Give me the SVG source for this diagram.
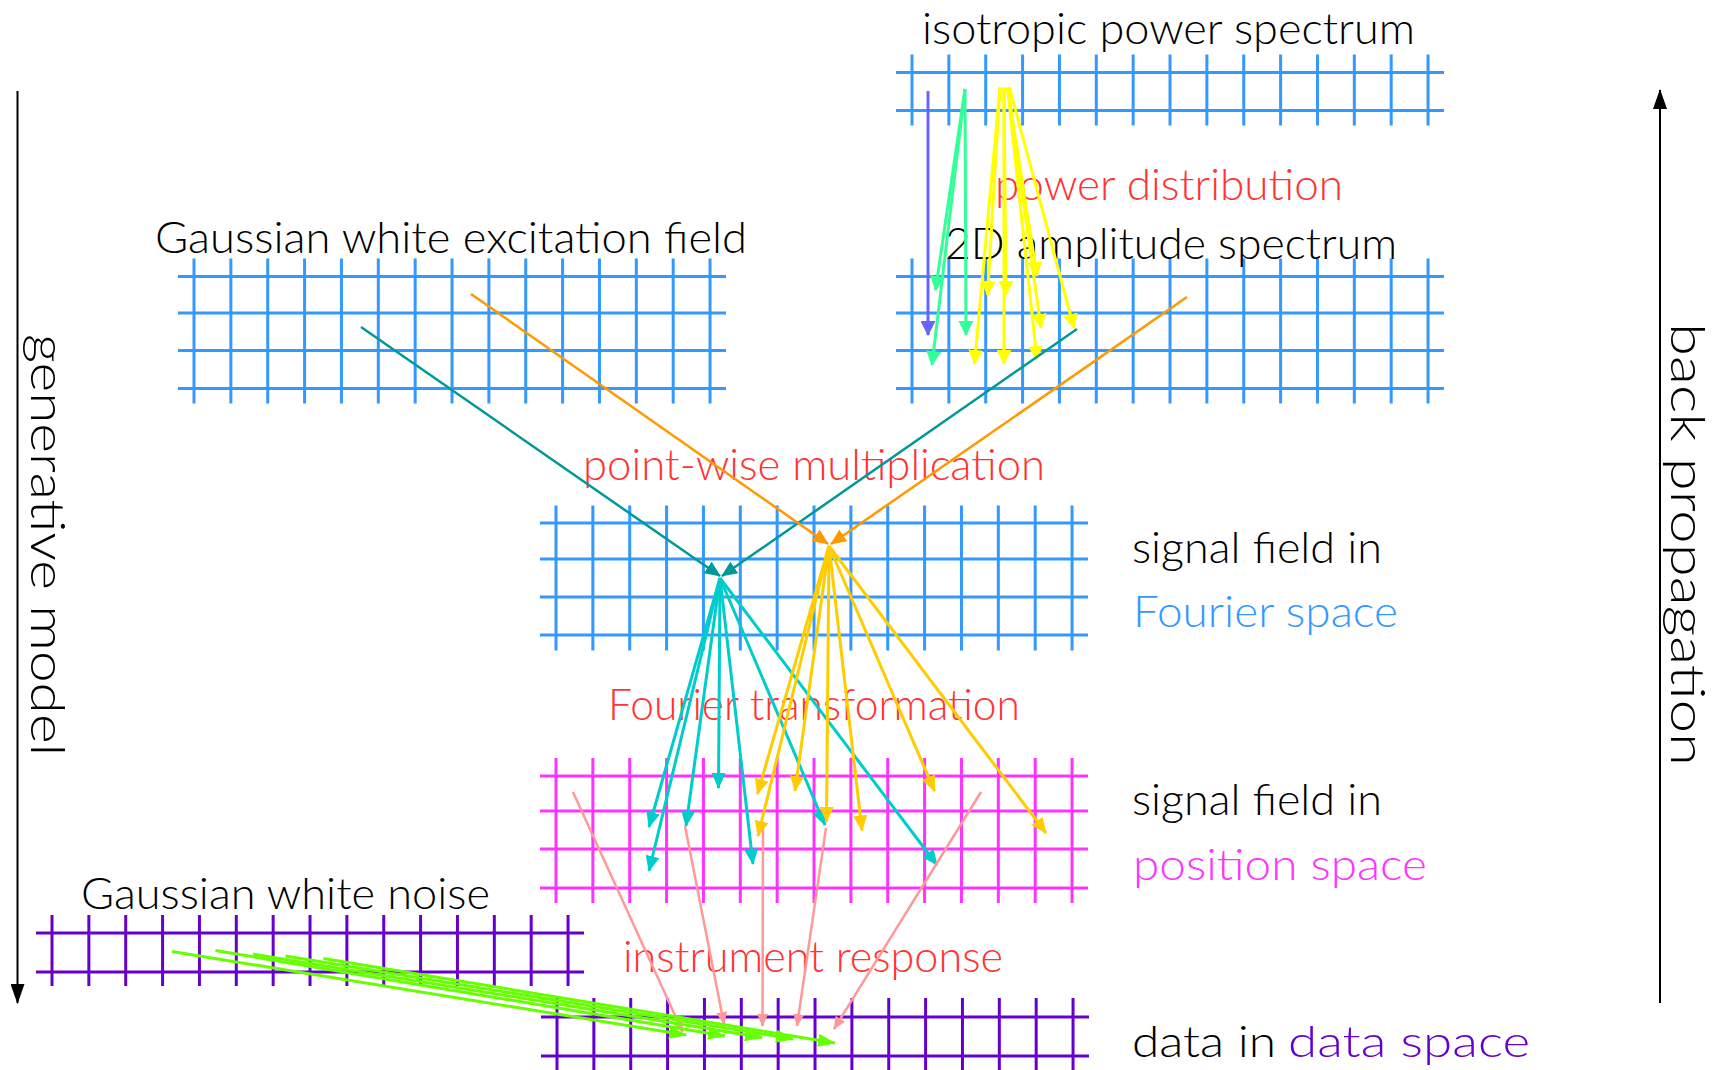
<svg xmlns="http://www.w3.org/2000/svg" xmlns:xlink="http://www.w3.org/1999/xlink" width="1718" height="1070" viewBox="0 0 1718 1070">
<style>
.bg{fill:#ffffff}
.gb{stroke:#3399ff;stroke-width:3;fill:none}
.gm{stroke:#ff33ff;stroke-width:3;fill:none}
.gp{stroke:#6600cc;stroke-width:3;fill:none}
.t{font-family:Lato,"Open Sans","Liberation Sans",sans-serif;font-weight:300;font-size:44px;fill:#000000}
.tr{font-family:Lato,"Open Sans","Liberation Sans",sans-serif;font-weight:300;font-size:47px;fill:#000000}
.red{fill:#ff3333}
.blue{fill:#3399ff}
.mag{fill:#ff33ff}
.pur{fill:#6600cc}
.k{stroke:#000000;stroke-width:2}
.purple{stroke:#6666ff;stroke-width:3}
.spring{stroke:#33ff99;stroke-width:3}
.yel{stroke:#ffff00;stroke-width:3}
.teal{stroke:#009999;stroke-width:2.5}
.ora{stroke:#ff9900;stroke-width:2.5}
.cyan{stroke:#00cccc;stroke-width:3}
.gold{stroke:#ffcc00;stroke-width:3}
.sal{stroke:#ff9999;stroke-width:2.5}
.lime{stroke:#66ff00;stroke-width:3}
</style>
<defs>
<path id="v4" d="M16,0V145M52.86,0V145M89.72,0V145M126.58,0V145M163.44,0V145M200.3,0V145M237.16,0V145M274.02,0V145M310.88,0V145M347.74,0V145M384.6,0V145M421.46,0V145M458.32,0V145M495.18,0V145M532.04,0V145"/>
<path id="v2" d="M16,0V71M52.86,0V71M89.72,0V71M126.58,0V71M163.44,0V71M200.3,0V71M237.16,0V71M274.02,0V71M310.88,0V71M347.74,0V71M384.6,0V71M421.46,0V71M458.32,0V71M495.18,0V71M532.04,0V71"/>
<marker id="mk" viewBox="0 0 20 14" refX="19" refY="7" markerWidth="20" markerHeight="14" markerUnits="userSpaceOnUse" orient="auto"><path d="M0,0L20,7L0,14z" fill="#000000"/></marker>
<marker id="mpurple" viewBox="0 0 15 15" refX="14" refY="7.5" markerWidth="15" markerHeight="15" markerUnits="userSpaceOnUse" orient="auto"><path d="M0,0L15,7.5L0,15z" fill="#6666ff"/></marker>
<marker id="mspring" viewBox="0 0 15 15" refX="14" refY="7.5" markerWidth="15" markerHeight="15" markerUnits="userSpaceOnUse" orient="auto"><path d="M0,0L15,7.5L0,15z" fill="#33ff99"/></marker>
<marker id="myel" viewBox="0 0 15 15" refX="14" refY="7.5" markerWidth="15" markerHeight="15" markerUnits="userSpaceOnUse" orient="auto"><path d="M0,0L15,7.5L0,15z" fill="#ffff00"/></marker>
<marker id="mteal" viewBox="0 0 16 14" refX="15" refY="7" markerWidth="16" markerHeight="14" markerUnits="userSpaceOnUse" orient="auto"><path d="M0,0L16,7L0,14z" fill="#009999"/></marker>
<marker id="mora" viewBox="0 0 16 14" refX="15" refY="7" markerWidth="16" markerHeight="14" markerUnits="userSpaceOnUse" orient="auto"><path d="M0,0L16,7L0,14z" fill="#ff9900"/></marker>
<marker id="mcyan" viewBox="0 0 16 14" refX="15" refY="7" markerWidth="16" markerHeight="14" markerUnits="userSpaceOnUse" orient="auto"><path d="M0,0L16,7L0,14z" fill="#00cccc"/></marker>
<marker id="mgold" viewBox="0 0 16 14" refX="15" refY="7" markerWidth="16" markerHeight="14" markerUnits="userSpaceOnUse" orient="auto"><path d="M0,0L16,7L0,14z" fill="#ffcc00"/></marker>
<marker id="msal" viewBox="0 0 13 11" refX="12" refY="5.5" markerWidth="13" markerHeight="11" markerUnits="userSpaceOnUse" orient="auto"><path d="M0,0L13,5.5L0,11z" fill="#ff9999"/></marker>
<marker id="mlime" viewBox="0 0 18 13" refX="17" refY="6.5" markerWidth="18" markerHeight="13" markerUnits="userSpaceOnUse" orient="auto"><path d="M0,0L18,6.5L0,13z" fill="#66ff00"/></marker>
</defs>
<rect class="bg" x="0" y="0" width="1718" height="1070"/>

<g id="isotropic-power-spectrum" class="gb">
<path d="M896,72.5H1444M896,110.5H1444"/>
<use xlink:href="#v2" x="896" y="54.5"/>
<text class="t" stroke="none" x="922" y="43.5" textLength="493" lengthAdjust="spacingAndGlyphs">isotropic power spectrum</text>
</g>

<g id="amplitude-spectrum" class="gb">
<path d="M896,276.5H1444M896,313H1444M896,350.5H1444M896,388.5H1444"/>
<use xlink:href="#v4" x="896" y="258.5"/>
<text class="t" stroke="none" x="945" y="258.5" textLength="452" lengthAdjust="spacingAndGlyphs">2D amplitude spectrum</text>
</g>

<g id="excitation-field" class="gb">
<path d="M178,276.5H726M178,313H726M178,350.5H726M178,388.5H726"/>
<use xlink:href="#v4" x="178" y="258.5"/>
<text class="t" stroke="none" x="155" y="252.5" textLength="592" lengthAdjust="spacingAndGlyphs">Gaussian white excitation field</text>
</g>

<g id="signal-fourier" class="gb">
<path d="M540,523H1088M540,559H1088M540,597H1088M540,635H1088"/>
<use xlink:href="#v4" x="540" y="505.5"/>
<text class="t" stroke="none" x="1132" y="562.5" textLength="250" lengthAdjust="spacingAndGlyphs">signal field in</text>
<text class="t blue" stroke="none" x="1133" y="626.5" textLength="265" lengthAdjust="spacingAndGlyphs">Fourier space</text>
</g>

<g id="signal-position" class="gm">
<path d="M540,776H1088M540,811H1088M540,849H1088M540,888H1088"/>
<use xlink:href="#v4" x="540" y="758"/>
<text class="t" stroke="none" x="1132" y="815" textLength="250" lengthAdjust="spacingAndGlyphs">signal field in</text>
<text class="t mag" stroke="none" x="1133" y="879.5" textLength="294" lengthAdjust="spacingAndGlyphs">position space</text>
</g>

<g id="white-noise" class="gp">
<path d="M36,933H584M36,972H584"/>
<use xlink:href="#v2" x="36" y="915"/>
<text class="t" stroke="none" x="81" y="908.5" textLength="409" lengthAdjust="spacingAndGlyphs">Gaussian white noise</text>
</g>

<g id="data-space" class="gp">
<path d="M541,1017H1089M541,1056H1089"/>
<use xlink:href="#v4" x="541" y="998"/>
<text class="t" stroke="none" x="1132" y="1057" textLength="144" lengthAdjust="spacingAndGlyphs">data in</text>
<text class="t pur" stroke="none" x="1288" y="1057" textLength="242" lengthAdjust="spacingAndGlyphs">data space</text>
</g>

<g id="step-labels">
<text class="t red" x="995" y="200" textLength="348" lengthAdjust="spacingAndGlyphs">power distribution</text>
<text class="t red" x="583" y="480" textLength="462" lengthAdjust="spacingAndGlyphs">point-wise multiplication</text>
<text class="t red" x="608" y="720" textLength="412" lengthAdjust="spacingAndGlyphs">Fourier transformation</text>
<text class="t red" x="623" y="972" textLength="380" lengthAdjust="spacingAndGlyphs">instrument response</text>
</g>

<g id="generative-model">
<text class="tr" transform="translate(30.5,334) rotate(90)" textLength="422" lengthAdjust="spacingAndGlyphs">generative model</text>
</g>
<g id="back-propagation">
<text class="tr" transform="translate(1670.5,323) rotate(90)" textLength="443" lengthAdjust="spacingAndGlyphs">back propagation</text>
</g>

<g id="connectors" fill="none">
<line class="k" x1="17.5" y1="91" x2="17.5" y2="1003" marker-end="url(#mk)"/>
<line class="k" x1="1660" y1="1003" x2="1660" y2="90" marker-end="url(#mk)"/>

<line class="purple" x1="928" y1="91" x2="928" y2="335" marker-end="url(#mpurple)"/>
<line class="spring" x1="965" y1="89" x2="935.5" y2="290" marker-end="url(#mspring)"/>
<line class="spring" x1="965" y1="89" x2="966" y2="335" marker-end="url(#mspring)"/>
<line class="spring" x1="965" y1="89" x2="932" y2="365" marker-end="url(#mspring)"/>
<line class="yel" x1="1000" y1="87.5" x2="987.5" y2="295" marker-end="url(#myel)"/>
<line class="yel" x1="1004" y1="87.5" x2="1006" y2="295" marker-end="url(#myel)"/>
<line class="yel" x1="1007.5" y1="87.5" x2="1037" y2="276" marker-end="url(#myel)"/>
<line class="yel" x1="1000" y1="87.5" x2="974.5" y2="364" marker-end="url(#myel)"/>
<line class="yel" x1="1004" y1="87.5" x2="1004" y2="364" marker-end="url(#myel)"/>
<line class="yel" x1="1007.5" y1="87.5" x2="1041" y2="328" marker-end="url(#myel)"/>
<line class="yel" x1="1009.5" y1="87.5" x2="1074" y2="328" marker-end="url(#myel)"/>
<line class="yel" x1="1007.5" y1="87.5" x2="1037" y2="360" marker-end="url(#myel)"/>

<line class="teal" x1="361" y1="327" x2="720" y2="576" marker-end="url(#mteal)"/>
<line class="teal" x1="1077" y1="329" x2="722" y2="576" marker-end="url(#mteal)"/>
<line class="ora" x1="471" y1="294" x2="828" y2="544" marker-end="url(#mora)"/>
<line class="ora" x1="1187" y1="297" x2="831" y2="544" marker-end="url(#mora)"/>

<line class="cyan" x1="720" y1="578" x2="649" y2="827" marker-end="url(#mcyan)"/>
<line class="cyan" x1="720" y1="578" x2="649" y2="871" marker-end="url(#mcyan)"/>
<line class="cyan" x1="720" y1="578" x2="686" y2="826" marker-end="url(#mcyan)"/>
<line class="cyan" x1="720" y1="578" x2="718.5" y2="788" marker-end="url(#mcyan)"/>
<line class="cyan" x1="720" y1="578" x2="753" y2="864" marker-end="url(#mcyan)"/>
<line class="cyan" x1="720" y1="578" x2="825" y2="825" marker-end="url(#mcyan)"/>
<line class="cyan" x1="720" y1="578" x2="937" y2="865" marker-end="url(#mcyan)"/>

<line class="gold" x1="829" y1="546" x2="757.5" y2="794" marker-end="url(#mgold)"/>
<line class="gold" x1="829" y1="546" x2="758" y2="836" marker-end="url(#mgold)"/>
<line class="gold" x1="829" y1="546" x2="795" y2="791" marker-end="url(#mgold)"/>
<line class="gold" x1="829" y1="546" x2="826.5" y2="822" marker-end="url(#mgold)"/>
<line class="gold" x1="829" y1="546" x2="862" y2="830.5" marker-end="url(#mgold)"/>
<line class="gold" x1="829" y1="546" x2="934.5" y2="791" marker-end="url(#mgold)"/>
<line class="gold" x1="829" y1="546" x2="1046" y2="833" marker-end="url(#mgold)"/>

<line class="sal" x1="573" y1="792" x2="682.6" y2="1032" marker-end="url(#msal)"/>
<line class="sal" x1="685" y1="826" x2="724" y2="1024" marker-end="url(#msal)"/>
<line class="sal" x1="763" y1="829" x2="762.5" y2="1026" marker-end="url(#msal)"/>
<line class="sal" x1="826" y1="828" x2="797" y2="1026" marker-end="url(#msal)"/>
<line class="sal" x1="981" y1="792" x2="834" y2="1029" marker-end="url(#msal)"/>

<line class="lime" x1="172" y1="951.5" x2="686" y2="1035" marker-end="url(#mlime)"/>
<line class="lime" x1="215.5" y1="950.5" x2="725" y2="1036" marker-end="url(#mlime)"/>
<line class="lime" x1="253" y1="954" x2="762" y2="1037.5" marker-end="url(#mlime)"/>
<line class="lime" x1="285.5" y1="956" x2="793" y2="1039" marker-end="url(#mlime)"/>
<line class="lime" x1="323.5" y1="958.5" x2="835" y2="1043" marker-end="url(#mlime)"/>
</g>
</svg>
